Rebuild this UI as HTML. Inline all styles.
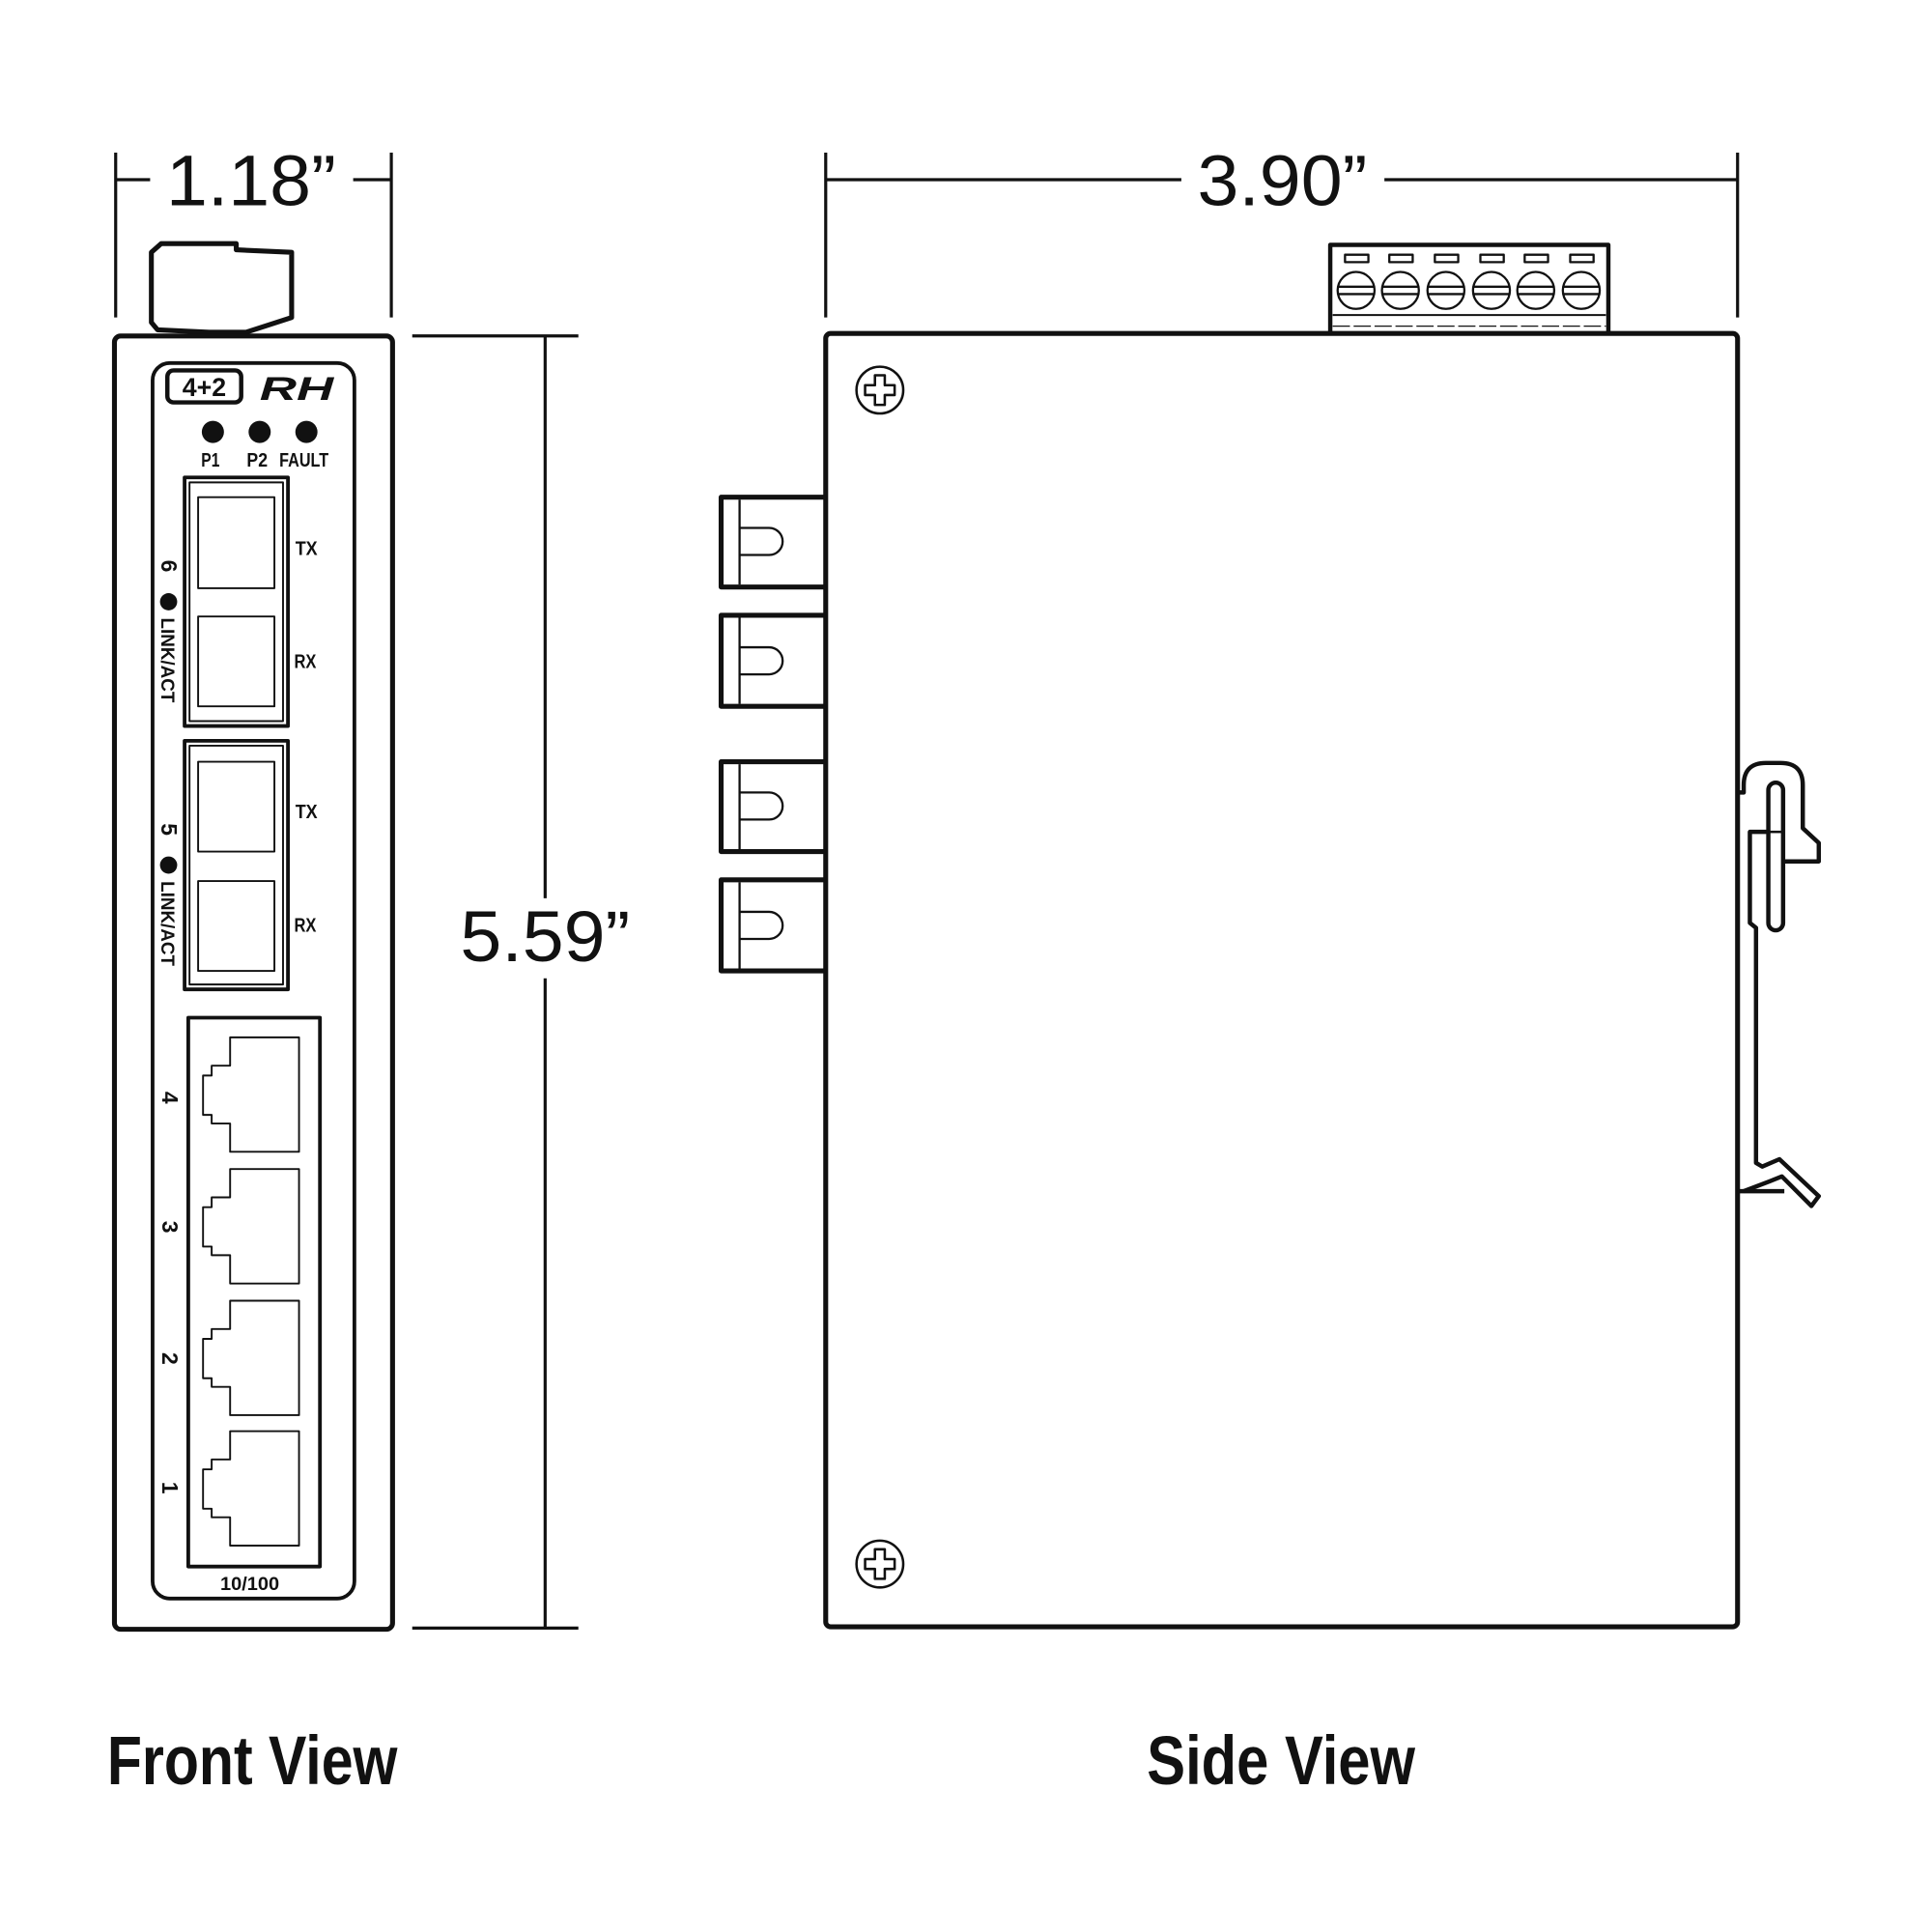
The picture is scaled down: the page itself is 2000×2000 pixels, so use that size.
<!DOCTYPE html>
<html><head><meta charset="utf-8"><style>
html,body{margin:0;padding:0;background:#fff}
svg{display:block}
text{font-family:"Liberation Sans",sans-serif;fill:#111}
</style></head><body>
<svg width="2000" height="2000" viewBox="0 0 1570 1570" xmlns="http://www.w3.org/2000/svg">
<g fill="none" stroke="#111" stroke-linejoin="round">
<line x1="94" y1="124" x2="94" y2="258" stroke-width="2.5"/>
<line x1="318" y1="124" x2="318" y2="258" stroke-width="2.5"/>
<line x1="94" y1="146" x2="122" y2="146" stroke-width="2.5"/>
<line x1="287" y1="146" x2="318" y2="146" stroke-width="2.5"/>
<line x1="671" y1="124" x2="671" y2="258" stroke-width="2.5"/>
<line x1="1412" y1="124" x2="1412" y2="258" stroke-width="2.5"/>
<line x1="671" y1="146" x2="960" y2="146" stroke-width="2.5"/>
<line x1="1125" y1="146" x2="1412" y2="146" stroke-width="2.5"/>
<line x1="335" y1="273" x2="470" y2="273" stroke-width="2.5"/>
<line x1="335" y1="1323" x2="470" y2="1323" stroke-width="2.5"/>
<line x1="443" y1="273" x2="443" y2="730" stroke-width="2.5"/>
<line x1="443" y1="795" x2="443" y2="1323" stroke-width="2.5"/>

<path d="M128,268 L123,262 L123,205 L131,198 L192,198 L192,203 L237,205 L237,258 L200,270 L170,270 Z" stroke-width="4"/>
<rect x="93" y="273" width="226" height="1051" rx="5" stroke-width="4"/>
<rect x="124" y="295" width="164" height="1004" rx="14" stroke-width="3"/>
<rect x="136" y="301" width="60" height="26" rx="5" stroke-width="3.5"/>
<rect x="150" y="388" width="84" height="202" stroke-width="3"/>
<rect x="154" y="392" width="76" height="194" stroke-width="1.5"/>
<rect x="161" y="404" width="62" height="74" stroke-width="1.5"/>
<rect x="161" y="501" width="62" height="73" stroke-width="1.5"/>
<rect x="150" y="602" width="84" height="202" stroke-width="3"/>
<rect x="154" y="606" width="76" height="194" stroke-width="1.5"/>
<rect x="161" y="619" width="62" height="73" stroke-width="1.5"/>
<rect x="161" y="716" width="62" height="73" stroke-width="1.5"/>
<rect x="153" y="827" width="107" height="446" stroke-width="3"/>
<g stroke-width="1.5">
<path d="M187,843 H243 V936 H187 V913 H172 V906 H165 V874 H172 V866 H187 Z"/>
<path d="M187,950 H243 V1043 H187 V1020 H172 V1013 H165 V981 H172 V973 H187 Z"/>
<path d="M187,1057 H243 V1150 H187 V1127 H172 V1120 H165 V1088 H172 V1080 H187 Z"/>
<path d="M187,1163 H243 V1256 H187 V1233 H172 V1226 H165 V1194 H172 V1186 H187 Z"/>
</g>

<rect x="671" y="271" width="741" height="1051" rx="4" stroke-width="4"/>
<path d="M1081,271 V199 H1307 V271" stroke-width="3.5"/>
<line x1="1083" y1="256" x2="1305" y2="256" stroke-width="1.5"/>
<line x1="1083" y1="265" x2="1305" y2="265" stroke-width="1" stroke-dasharray="14,3"/>
<g stroke-width="1.8">
<rect x="1093" y="207" width="19" height="6"/><circle cx="1102" cy="236" r="15"/><line x1="1087" y1="233" x2="1117" y2="233"/><line x1="1087" y1="239" x2="1117" y2="239"/>
<rect x="1129" y="207" width="19" height="6"/><circle cx="1138" cy="236" r="15"/><line x1="1123" y1="233" x2="1153" y2="233"/><line x1="1123" y1="239" x2="1153" y2="239"/>
<rect x="1166" y="207" width="19" height="6"/><circle cx="1175" cy="236" r="15"/><line x1="1160" y1="233" x2="1190" y2="233"/><line x1="1160" y1="239" x2="1190" y2="239"/>
<rect x="1203" y="207" width="19" height="6"/><circle cx="1212" cy="236" r="15"/><line x1="1197" y1="233" x2="1227" y2="233"/><line x1="1197" y1="239" x2="1227" y2="239"/>
<rect x="1239" y="207" width="19" height="6"/><circle cx="1248" cy="236" r="15"/><line x1="1233" y1="233" x2="1263" y2="233"/><line x1="1233" y1="239" x2="1263" y2="239"/>
<rect x="1276" y="207" width="19" height="6"/><circle cx="1285" cy="236" r="15"/><line x1="1270" y1="233" x2="1300" y2="233"/><line x1="1270" y1="239" x2="1300" y2="239"/>
</g>
<g stroke-width="2">
<circle cx="715" cy="317" r="19"/>
<path d="M711,305 H719 V313 H727 V321 H719 V329 H711 V321 H703 V313 H711 Z"/>
<circle cx="715" cy="1271" r="19"/>
<path d="M711,1259 H719 V1267 H727 V1275 H719 V1283 H711 V1275 H703 V1267 H711 Z"/>
</g>
<g stroke-width="4">
<path d="M671,404 H586 V477 H671"/>
<path d="M671,500 H586 V574 H671"/>
<path d="M671,619 H586 V692 H671"/>
<path d="M671,715 H586 V789 H671"/>
</g>
<g stroke-width="1.8">
<line x1="601" y1="406" x2="601" y2="475"/><path d="M601,429 H625 A11,11 0 0 1 625,451 H601"/>
<line x1="601" y1="502" x2="601" y2="572"/><path d="M601,526 H625 A11,11 0 0 1 625,548 H601"/>
<line x1="601" y1="621" x2="601" y2="690"/><path d="M601,644 H625 A11,11 0 0 1 625,666 H601"/>
<line x1="601" y1="717" x2="601" y2="787"/><path d="M601,741 H625 A11,11 0 0 1 625,763 H601"/>
</g>
<g stroke-width="3.5">
<path d="M1412,644 H1417 V638 Q1417,620 1435,620 H1447 Q1465,620 1465,638 V673 L1478,685 V700 H1452 L1448,700"/>
<rect x="1437" y="636" width="12" height="120" rx="6"/>
<line x1="1437" y1="676" x2="1449" y2="676" stroke-width="2"/>
<path d="M1437,676 H1422 V750 L1427,754 V945 L1432,948 L1446,942 L1478,972 L1472,980 L1448,956 L1438,960 L1417,968"/>
<line x1="1412" y1="968" x2="1450" y2="968"/>
</g>
</g>

<g fill="#111">
<circle cx="173" cy="351" r="9"/><circle cx="211" cy="351" r="9"/><circle cx="249" cy="351" r="9"/>
<circle cx="137" cy="489" r="7"/><circle cx="137" cy="703" r="7"/>
</g>
<text x="166" y="322" font-size="21" font-weight="bold" text-anchor="middle">4+2</text>
<text x="241" y="325" font-size="27" font-weight="bold" font-style="italic" font-family="Liberation Serif,serif" text-anchor="middle" textLength="60" lengthAdjust="spacingAndGlyphs">RH</text>
<g font-size="16" text-anchor="middle" font-weight="bold">
<text x="171" y="379" textLength="15" lengthAdjust="spacingAndGlyphs">P1</text>
<text x="209" y="379" textLength="17" lengthAdjust="spacingAndGlyphs">P2</text>
<text x="247" y="379" textLength="40" lengthAdjust="spacingAndGlyphs">FAULT</text>
<text x="249" y="451" textLength="18" lengthAdjust="spacingAndGlyphs">TX</text>
<text x="248" y="543" textLength="18" lengthAdjust="spacingAndGlyphs">RX</text>
<text x="249" y="665" textLength="18" lengthAdjust="spacingAndGlyphs">TX</text>
<text x="248" y="757" textLength="18" lengthAdjust="spacingAndGlyphs">RX</text>
<text x="203" y="1292" font-size="15" textLength="48" lengthAdjust="spacingAndGlyphs">10/100</text>
</g>
<g font-weight="bold">
<text transform="translate(131,460) rotate(90)" font-size="18" text-anchor="middle">6</text>
<text transform="translate(131,674) rotate(90)" font-size="18" text-anchor="middle">5</text>
<text transform="translate(131,502) rotate(90)" font-size="15" textLength="69" lengthAdjust="spacingAndGlyphs">LINK/ACT</text>
<text transform="translate(131,716) rotate(90)" font-size="15" textLength="69" lengthAdjust="spacingAndGlyphs">LINK/ACT</text>
<text transform="translate(132,892) rotate(90)" font-size="18" text-anchor="middle">4</text>
<text transform="translate(132,997) rotate(90)" font-size="18" text-anchor="middle">3</text>
<text transform="translate(132,1104) rotate(90)" font-size="18" text-anchor="middle">2</text>
<text transform="translate(132,1209) rotate(90)" font-size="18" text-anchor="middle">1</text>
</g>
<text x="204" y="167" font-size="58" text-anchor="middle" textLength="138" lengthAdjust="spacingAndGlyphs">1.18”</text>
<text x="443" y="781" font-size="58" text-anchor="middle" textLength="138" lengthAdjust="spacingAndGlyphs">5.59”</text>
<text x="1042" y="167" font-size="58" text-anchor="middle" textLength="138" lengthAdjust="spacingAndGlyphs">3.90”</text>
<text x="205" y="1450" font-size="56" font-weight="bold" text-anchor="middle" textLength="236" lengthAdjust="spacingAndGlyphs">Front View</text>
<text x="1041" y="1450" font-size="56" font-weight="bold" text-anchor="middle" textLength="218" lengthAdjust="spacingAndGlyphs">Side View</text>
</svg>
</body></html>
